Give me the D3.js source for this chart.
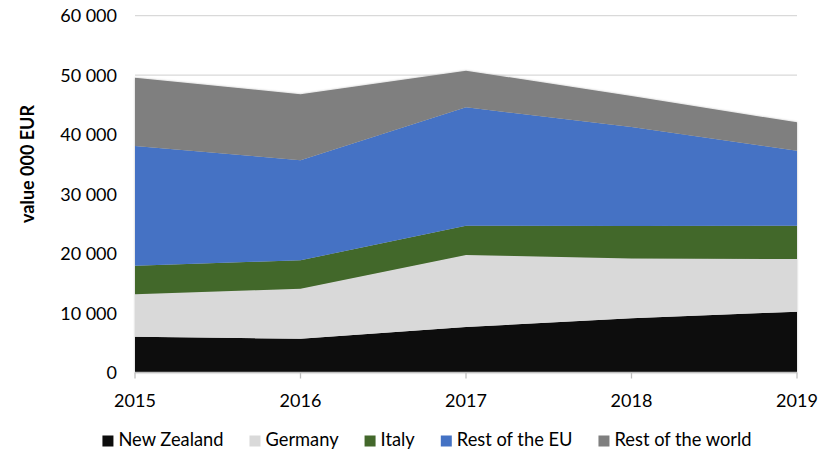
<!DOCTYPE html>
<html><head><meta charset="utf-8">
<script src="https://cdn.jsdelivr.net/npm/d3@7/dist/d3.min.js"></script>
<style>
html,body{margin:0;padding:0;background:#fff;}
svg{display:block;font-family:Lato,"Open Sans",sans-serif;}
</style></head>
<body><svg id="c" width="835" height="456"></svg>
<script>
const years = ["2015","2016","2017","2018","2019"];
const seriesNames = ["New Zealand","Germany","Italy","Rest of the EU","Rest of the world"];
const newZealand = [6020, 5670, 7650, 9110, 10220];
const germany = [7130, 8420, 12110, 10060, 8860];
const italy = [4810, 4770, 4930, 5470, 5610];
const restEU = [20130, 16830, 19900, 16640, 12610];
const restWorld = [11480, 11110, 6160, 5210, 4770];
const yTicks = [0, 10000, 20000, 30000, 40000, 50000, 60000];
const colors = ["#0d0d0d","#d9d9d9","#43682b","#4472c4","#7f7f7f"];

const seriesValues = [newZealand, germany, italy, restEU, restWorld];
const table = years.map((y, i) => {
  const row = {year: y};
  seriesNames.forEach((n, k) => row[n] = seriesValues[k][i]);
  return row;
});

const svg = d3.select("#c");
const x = d3.scalePoint().domain(years).range([135, 797]);
const y = d3.scaleLinear().domain([0, 60000]).range([372.5, 15.7]);

const defs = svg.append("defs");
const f = defs.append("filter").attr("id","sh").attr("x","-5%").attr("y","-5%").attr("width","110%").attr("height","110%");
f.append("feDropShadow").attr("dx",0).attr("dy",0).attr("stdDeviation",1.2).attr("flood-color","#000").attr("flood-opacity",0.25);

// gridlines
svg.append("g").selectAll("line").data(yTicks.filter(d => d > 0)).join("line")
  .attr("x1", 135).attr("x2", 797)
  .attr("y1", d => y(d)).attr("y2", d => y(d))
  .attr("stroke", "#d9d9d9").attr("stroke-width", 1.3);

// y tick labels
svg.append("g").selectAll("text").data(yTicks).join("text")
  .attr("x", 117).attr("y", d => y(d)).attr("dy", "0.36em")
  .attr("text-anchor", "end").attr("font-size", 18).attr("fill", "#000")
  .text(d => d3.format(",")(d).replace(/,/g, " "));

// stacked areas
const stack = d3.stack().keys(seriesNames);
const layers = stack(table);
const area = d3.area()
  .x(d => x(d.data.year))
  .y0(d => y(d[0]))
  .y1(d => y(d[1]));
svg.append("g").attr("filter","url(#sh)").selectAll("path").data(layers).join("path")
  .attr("d", area)
  .attr("fill", (d, i) => colors[i]);

// x axis
const xAxis = svg.append("g").attr("transform", "translate(0,372.5)");
xAxis.append("line").attr("x1", 135).attr("x2", 797).attr("stroke", "#bfbfbf").attr("stroke-width", 1.5);
xAxis.selectAll("line.t").data(years).join("line").attr("class","t")
  .attr("x1", d => x(d)).attr("x2", d => x(d)).attr("y1", 0).attr("y2", 6)
  .attr("stroke", "#bfbfbf").attr("stroke-width", 1.3);
xAxis.selectAll("text").data(years).join("text")
  .attr("x", d => x(d)).attr("y", 34.5).attr("text-anchor", "middle")
  .attr("font-size", 18).attr("fill", "#000").text(d => d);

// y axis title
svg.append("text").attr("transform", "translate(34,164) rotate(-90)")
  .attr("text-anchor", "middle").attr("font-size", 18).attr("font-weight", "bold")
  .attr("fill", "#000").text("value 000 EUR");

// legend
const lg = svg.append("g");
const items = lg.selectAll("g").data(seriesNames).join("g");
items.append("rect").attr("width", 11).attr("height", 11).attr("y", 435.5)
  .attr("fill", (d, i) => colors[i]);
items.append("text").attr("x", 16).attr("y", 446).attr("font-size", 18.3)
  .attr("fill", "#000").text(d => d);
let pos = 0;
const offs = [];
items.each(function() {
  const w = d3.select(this).select("text").node().getComputedTextLength();
  offs.push(pos);
  pos += 16 + w + 26;
});
const total = pos - 26;
const start = 427 - total / 2;
items.attr("transform", (d, i) => `translate(${start + offs[i]},0)`);
</script>
</body></html>
